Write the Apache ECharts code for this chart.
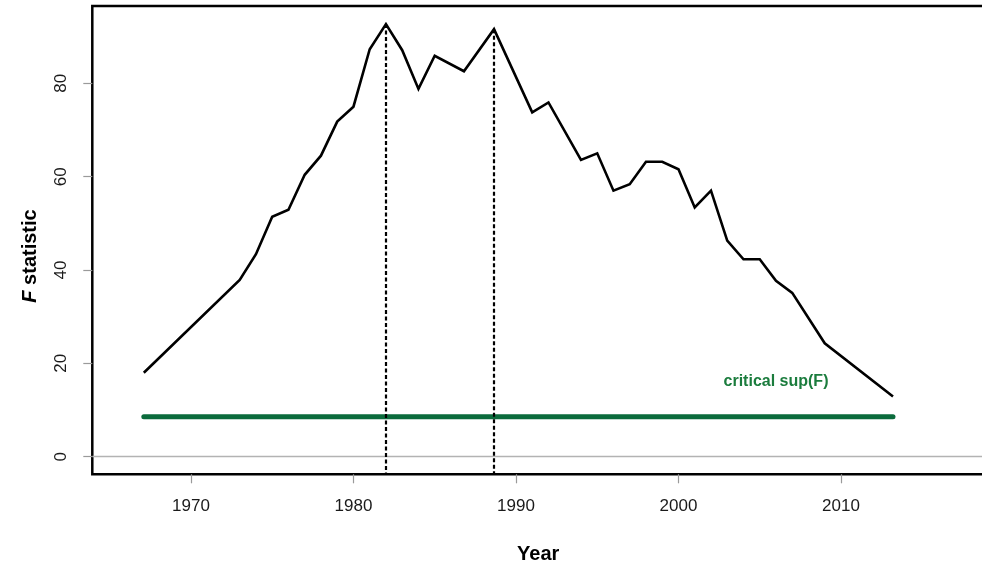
<!DOCTYPE html>
<html>
<head>
<meta charset="utf-8">
<title>F statistic by year</title>
<script src="https://cdn.jsdelivr.net/npm/echarts@6/dist/echarts.min.js"></script>
<style>
  html, body { margin: 0; padding: 0; background: #fff; }
  #chart { width: 982px; height: 566px; }
</style>
</head>
<body>
<div id="chart"></div>
<script>
// Sup-F test sequence: F statistic for each candidate break year
const years = [1967.1, 1973, 1974, 1975, 1976, 1977, 1978, 1979, 1980, 1981,
               1982, 1983, 1984, 1985, 1986.8, 1988.65, 1991, 1992, 1994, 1995,
               1996, 1997, 1998, 1999, 2000, 2001, 2002, 2003, 2004, 2005,
               2006, 2007, 2009, 2013.2];
const fValues = [18.0, 37.9, 43.4, 51.4, 52.9, 60.4, 64.5, 71.8, 75.0, 87.3,
                 92.7, 87.1, 78.8, 85.9, 82.6, 91.6, 73.8, 75.9, 63.6, 65.0,
                 57.0, 58.4, 63.2, 63.2, 61.6, 53.4, 57.0, 46.3, 42.3, 42.3,
                 37.7, 35.1, 24.3, 12.9];

// Estimated break dates (dashed verticals) and the critical sup(F) value
const breakYears = [1982, 1988.65];
const criticalSupF = 8.57;

// Tick labels
const xTicks = [1970, 1980, 1990, 2000, 2010];
const yTicks = [0, 20, 40, 60, 80];

const X_MIN = 1963.93, X_MAX = 2018.8;
const Y_MIN = -3.77, Y_MAX = 96.57;
const FONT = '"Liberation Sans", Arial, Helvetica, sans-serif';

const seriesData = years.map((y, i) => [y, fValues[i]]);
const breakLines = breakYears.map(b => {
  const i = years.indexOf(b);
  return [{ coord: [b, fValues[i]] }, { coord: [b, Y_MIN] }];
});
const critData = [[years[0], criticalSupF], [years[years.length - 1], criticalSupF]];

const chart = echarts.init(document.getElementById('chart'), null, { renderer: 'canvas' });

chart.setOption({
  animation: false,
  backgroundColor: '#fff',
  grid: {
    left: 92.3, top: 6, width: 891.7, height: 468.3,
    show: true, borderColor: '#000', borderWidth: 2.5,
    backgroundColor: 'transparent',
    outerBoundsMode: 'none'
  },
  xAxis: {
    type: 'value', min: X_MIN, max: X_MAX,
    axisLine: { show: false, onZero: false },
    splitLine: { show: false },
    axisTick: { customValues: xTicks, length: 9, lineStyle: { color: '#9a9a9a', width: 1.2 } },
    axisLabel: {
      customValues: xTicks, fontSize: 17, color: '#1a1a1a', fontFamily: FONT, margin: 24,
      formatter: v => String(v)
    },
    name: 'Year', nameLocation: 'middle', nameGap: 80,
    nameTextStyle: { fontSize: 20, fontWeight: 'bold', color: '#000', fontFamily: FONT, verticalAlign: 'middle' }
  },
  yAxis: {
    type: 'value', min: Y_MIN, max: Y_MAX,
    axisLine: { show: false, onZero: false },
    splitLine: { show: false },
    axisTick: { customValues: yTicks, length: 9, lineStyle: { color: '#9a9a9a', width: 1.2 } },
    axisLabel: {
      customValues: yTicks, rotate: 90, fontSize: 17, color: '#1a1a1a', fontFamily: FONT, margin: 22,
      formatter: v => String(v)
    }
  },
  graphic: [
    {
      type: 'text', x: 30, y: 256, rotation: Math.PI / 2,
      style: {
        text: '{it|F} statistic',
        font: 'bold 20px ' + FONT,
        fill: '#000', align: 'center', verticalAlign: 'middle',
        rich: { it: { fontStyle: 'italic', fontWeight: 'bold', fontSize: 20, fontFamily: FONT, fill: '#000' } }
      }
    },
    {
      type: 'text', x: 776, y: 382,
      style: {
        text: 'critical sup(F)', font: 'bold 16px ' + FONT,
        fill: '#1b7c3d', align: 'center', verticalAlign: 'middle'
      }
    }
  ],
  series: [
    {
      // horizontal reference at zero
      type: 'line', data: [], silent: true,
      markLine: {
        silent: true, symbol: ['none', 'none'], label: { show: false },
        lineStyle: { color: '#b3b3b3', width: 1.3, type: 'solid' },
        data: [{ yAxis: 0 }]
      }
    },
    {
      name: 'critical sup(F)', type: 'line', data: critData,
      symbol: 'none', silent: true,
      lineStyle: { color: '#0b6b3c', width: 5, cap: 'round' }
    },
    {
      name: 'F statistic', type: 'line', data: seriesData,
      symbol: 'none', silent: true, z: 3,
      lineStyle: { color: '#000', width: 2.6, join: 'miter' },
      markLine: {
        silent: true, symbol: ['none', 'none'], label: { show: false },
        lineStyle: { color: '#000', width: 2.2, type: [4, 2.5] },
        data: breakLines
      }
    }
  ]
});
</script>
</body>
</html>
